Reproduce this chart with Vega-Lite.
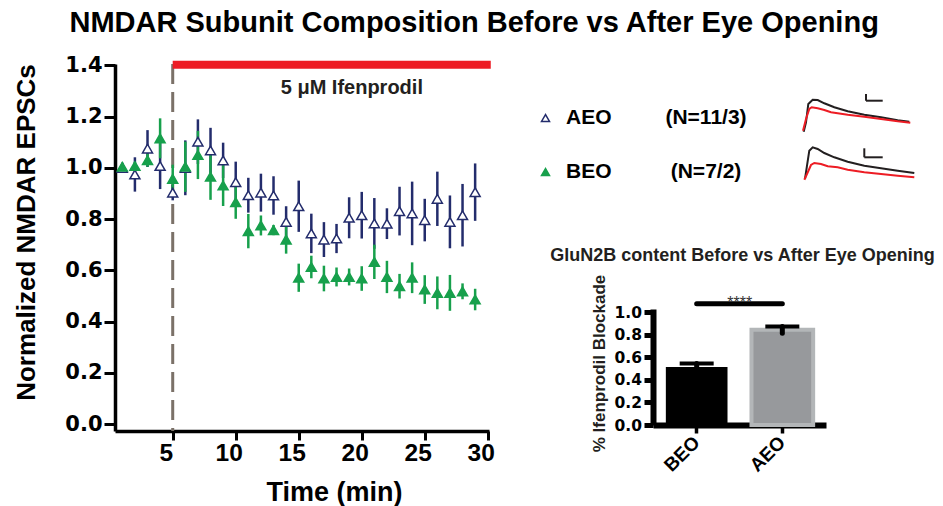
{
  "$schema": "https://vega.github.io/schema/vega-lite/v6.json",
  "background": "white",
  "padding": {"left": 13, "top": 9, "right": 0, "bottom": 0},
  "title": {"text": "NMDAR Subunit Composition Before vs After Eye Opening", "font": "Liberation Sans", "fontSize": 29, "fontWeight": "bold", "color": "#000000", "anchor": "middle", "offset": 16},
  "config": {"view": {"stroke": null}, "axis": {"grid": false, "labelOverlap": false}, "text": {"font": "Liberation Sans"}},
  "datasets": {
    "timecourse": [
      {"group": "AEO", "time": 1, "mean": 1.0, "sem": 0.02},
      {"group": "AEO", "time": 2, "mean": 0.974, "sem": 0.067},
      {"group": "AEO", "time": 3, "mean": 1.075, "sem": 0.072},
      {"group": "AEO", "time": 4, "mean": 1.007, "sem": 0.09},
      {"group": "AEO", "time": 5, "mean": 0.903, "sem": 0.03},
      {"group": "AEO", "time": 6, "mean": 1.0, "sem": 0.107},
      {"group": "AEO", "time": 7, "mean": 1.102, "sem": 0.087},
      {"group": "AEO", "time": 8, "mean": 1.068, "sem": 0.088},
      {"group": "AEO", "time": 9, "mean": 1.029, "sem": 0.069},
      {"group": "AEO", "time": 10, "mean": 0.944, "sem": 0.08},
      {"group": "AEO", "time": 11, "mean": 0.893, "sem": 0.068},
      {"group": "AEO", "time": 12, "mean": 0.903, "sem": 0.074},
      {"group": "AEO", "time": 13, "mean": 0.892, "sem": 0.075},
      {"group": "AEO", "time": 14, "mean": 0.789, "sem": 0.061},
      {"group": "AEO", "time": 15, "mean": 0.85, "sem": 0.1},
      {"group": "AEO", "time": 16, "mean": 0.744, "sem": 0.077},
      {"group": "AEO", "time": 17, "mean": 0.72, "sem": 0.068},
      {"group": "AEO", "time": 18, "mean": 0.724, "sem": 0.057},
      {"group": "AEO", "time": 19, "mean": 0.805, "sem": 0.08},
      {"group": "AEO", "time": 20, "mean": 0.815, "sem": 0.091},
      {"group": "AEO", "time": 21, "mean": 0.783, "sem": 0.099},
      {"group": "AEO", "time": 22, "mean": 0.782, "sem": 0.06},
      {"group": "AEO", "time": 23, "mean": 0.831, "sem": 0.095},
      {"group": "AEO", "time": 24, "mean": 0.822, "sem": 0.124},
      {"group": "AEO", "time": 25, "mean": 0.796, "sem": 0.083},
      {"group": "AEO", "time": 26, "mean": 0.879, "sem": 0.106},
      {"group": "AEO", "time": 27, "mean": 0.789, "sem": 0.103},
      {"group": "AEO", "time": 28, "mean": 0.815, "sem": 0.122},
      {"group": "AEO", "time": 29, "mean": 0.905, "sem": 0.112},
      {"group": "BEO", "time": 1, "mean": 1.004, "sem": 0.01},
      {"group": "BEO", "time": 2, "mean": 1.007, "sem": 0.015},
      {"group": "BEO", "time": 3, "mean": 1.03, "sem": 0.026},
      {"group": "BEO", "time": 4, "mean": 1.115, "sem": 0.078},
      {"group": "BEO", "time": 5, "mean": 0.957, "sem": 0.055},
      {"group": "BEO", "time": 6, "mean": 1.004, "sem": 0.098},
      {"group": "BEO", "time": 7, "mean": 1.05, "sem": 0.094},
      {"group": "BEO", "time": 8, "mean": 0.965, "sem": 0.09},
      {"group": "BEO", "time": 9, "mean": 0.931, "sem": 0.08},
      {"group": "BEO", "time": 10, "mean": 0.866, "sem": 0.065},
      {"group": "BEO", "time": 11, "mean": 0.753, "sem": 0.067},
      {"group": "BEO", "time": 12, "mean": 0.775, "sem": 0.039},
      {"group": "BEO", "time": 13, "mean": 0.757, "sem": 0.02},
      {"group": "BEO", "time": 14, "mean": 0.72, "sem": 0.055},
      {"group": "BEO", "time": 15, "mean": 0.571, "sem": 0.055},
      {"group": "BEO", "time": 16, "mean": 0.613, "sem": 0.044},
      {"group": "BEO", "time": 17, "mean": 0.568, "sem": 0.05},
      {"group": "BEO", "time": 18, "mean": 0.574, "sem": 0.037},
      {"group": "BEO", "time": 19, "mean": 0.574, "sem": 0.033},
      {"group": "BEO", "time": 20, "mean": 0.568, "sem": 0.048},
      {"group": "BEO", "time": 21, "mean": 0.633, "sem": 0.067},
      {"group": "BEO", "time": 22, "mean": 0.574, "sem": 0.063},
      {"group": "BEO", "time": 23, "mean": 0.538, "sem": 0.048},
      {"group": "BEO", "time": 24, "mean": 0.571, "sem": 0.06},
      {"group": "BEO", "time": 25, "mean": 0.525, "sem": 0.056},
      {"group": "BEO", "time": 26, "mean": 0.512, "sem": 0.064},
      {"group": "BEO", "time": 27, "mean": 0.512, "sem": 0.07},
      {"group": "BEO", "time": 28, "mean": 0.518, "sem": 0.031},
      {"group": "BEO", "time": 29, "mean": 0.486, "sem": 0.042}
    ],
    "annot": [{"label": "5 μM Ifenprodil", "start": 5.0, "end": 30.24, "level": 1.402}],
    "legendinfo": [{"group": "AEO", "n": "(N=11/3)"}, {"group": "BEO", "n": "(N=7/2)"}],
    "traces": [
      {"group": "AEO", "series": "control", "t": 2.7, "amp": 0.3},
      {"group": "AEO", "series": "control", "t": 5, "amp": 9.7},
      {"group": "AEO", "series": "control", "t": 7.3, "amp": 28},
      {"group": "AEO", "series": "control", "t": 11.7, "amp": 32.3},
      {"group": "AEO", "series": "control", "t": 16.7, "amp": 32},
      {"group": "AEO", "series": "control", "t": 23.3, "amp": 28.7},
      {"group": "AEO", "series": "control", "t": 33.3, "amp": 24.7},
      {"group": "AEO", "series": "control", "t": 46.7, "amp": 20.7},
      {"group": "AEO", "series": "control", "t": 63.3, "amp": 17.3},
      {"group": "AEO", "series": "control", "t": 80, "amp": 14.7},
      {"group": "AEO", "series": "control", "t": 96.7, "amp": 11.7},
      {"group": "AEO", "series": "control", "t": 108.3, "amp": 10.3},
      {"group": "BEO", "series": "control", "t": 4, "amp": 0.5},
      {"group": "BEO", "series": "control", "t": 6, "amp": 13.8},
      {"group": "BEO", "series": "control", "t": 8.3, "amp": 28.8},
      {"group": "BEO", "series": "control", "t": 11.7, "amp": 32.2},
      {"group": "BEO", "series": "control", "t": 16.7, "amp": 30.5},
      {"group": "BEO", "series": "control", "t": 23.3, "amp": 26.5},
      {"group": "BEO", "series": "control", "t": 33.3, "amp": 22.2},
      {"group": "BEO", "series": "control", "t": 46.7, "amp": 17.8},
      {"group": "BEO", "series": "control", "t": 63.3, "amp": 13.8},
      {"group": "BEO", "series": "control", "t": 80, "amp": 11.2},
      {"group": "BEO", "series": "control", "t": 96.7, "amp": 8.8},
      {"group": "BEO", "series": "control", "t": 113.3, "amp": 6.5},
      {"group": "AEO", "series": "ifenprodil", "t": 2, "amp": 1.3},
      {"group": "AEO", "series": "ifenprodil", "t": 5, "amp": 13},
      {"group": "AEO", "series": "ifenprodil", "t": 8.3, "amp": 23},
      {"group": "AEO", "series": "ifenprodil", "t": 10.7, "amp": 24.7},
      {"group": "AEO", "series": "ifenprodil", "t": 16.7, "amp": 23.7},
      {"group": "AEO", "series": "ifenprodil", "t": 23.3, "amp": 22},
      {"group": "AEO", "series": "ifenprodil", "t": 30, "amp": 19.7},
      {"group": "AEO", "series": "ifenprodil", "t": 46.7, "amp": 17.3},
      {"group": "AEO", "series": "ifenprodil", "t": 63.3, "amp": 15.3},
      {"group": "AEO", "series": "ifenprodil", "t": 80, "amp": 13},
      {"group": "AEO", "series": "ifenprodil", "t": 96.7, "amp": 10.7},
      {"group": "AEO", "series": "ifenprodil", "t": 109.3, "amp": 9.3},
      {"group": "BEO", "series": "ifenprodil", "t": 3.3, "amp": -0.2},
      {"group": "BEO", "series": "ifenprodil", "t": 6, "amp": 5.5},
      {"group": "BEO", "series": "ifenprodil", "t": 10, "amp": 14.5},
      {"group": "BEO", "series": "ifenprodil", "t": 13.3, "amp": 16.5},
      {"group": "BEO", "series": "ifenprodil", "t": 20, "amp": 15.5},
      {"group": "BEO", "series": "ifenprodil", "t": 26.7, "amp": 13.2},
      {"group": "BEO", "series": "ifenprodil", "t": 36.7, "amp": 12.2},
      {"group": "BEO", "series": "ifenprodil", "t": 46.7, "amp": 9.8},
      {"group": "BEO", "series": "ifenprodil", "t": 63.3, "amp": 7.2},
      {"group": "BEO", "series": "ifenprodil", "t": 80, "amp": 5.5},
      {"group": "BEO", "series": "ifenprodil", "t": 96.7, "amp": 3.8},
      {"group": "BEO", "series": "ifenprodil", "t": 113.3, "amp": 2.2}
    ],
    "scalebars": [
      {"group": "AEO", "t": 65, "t2": 81.7, "top": 38, "bottom": 31.3},
      {"group": "BEO", "t": 63.3, "t2": 81.7, "top": 31.2, "bottom": 22.2}
    ],
    "blockade": [
      {"group": "BEO", "mean": 0.515, "lower": 0.485, "upper": 0.545},
      {"group": "AEO", "mean": 0.845, "lower": 0.815, "upper": 0.875}
    ],
    "significance": [{"from": "BEO", "to": "AEO", "level": 1.077, "label": "****"}]
  },
  "bounds": "flush",
  "spacing": 42,
  "hconcat": [
    {
      "width": 374,
      "height": 367,
      "layer": [
        {
          "data": {"name": "annot"},
          "mark": {"type": "rule", "color": "#7b7168", "strokeWidth": 3, "strokeDash": [20, 8]},
          "encoding": {"x": {"field": "start", "type": "quantitative"}}
        },
        {
          "data": {"name": "annot"},
          "mark": {"type": "rule", "color": "#ed1c24", "strokeWidth": 8},
          "encoding": {
            "x": {"field": "start", "type": "quantitative"},
            "x2": {"field": "end"},
            "y": {"field": "level", "type": "quantitative"}
          }
        },
        {
          "data": {"name": "annot"},
          "mark": {"type": "text", "font": "Liberation Sans", "fontWeight": "bold", "fontSize": 20, "color": "#231f20", "align": "left", "baseline": "alphabetic", "dx": 108, "dy": 29.5},
          "encoding": {
            "x": {"field": "start", "type": "quantitative"},
            "y": {"field": "level", "type": "quantitative"},
            "text": {"field": "label"}
          }
        },
        {
          "data": {"name": "timecourse"},
          "mark": {"type": "errorbar", "rule": {"strokeWidth": 2.5}},
          "encoding": {
            "x": {"field": "time", "type": "quantitative", "title": "Time (min)"},
            "y": {"field": "mean", "type": "quantitative", "title": "Normalized NMDAR EPSCs"},
            "yError": {"field": "sem"},
            "color": {"field": "group", "type": "nominal", "scale": {"domain": ["AEO", "BEO"], "range": ["#232c6c", "#17a04c"]}, "legend": null}
          }
        },
        {
          "data": {"name": "timecourse"},
          "mark": {"type": "point", "shape": "triangle-up", "size": 100, "strokeWidth": 1.5, "opacity": 1},
          "encoding": {
            "x": {
              "field": "time", "type": "quantitative",
              "scale": {"domain": [0.42, 30.1], "nice": false, "zero": false},
              "axis": {
                "values": [5, 10, 15, 20, 25, 30], "tickCount": 6,
                "title": "Time (min)",
                "titleFont": "Liberation Sans", "titleFontSize": 27, "titleFontWeight": "bold", "titleColor": "#000000",
                "titleX": 219, "titleY": 69.7, "titleBaseline": "alphabetic", "titleAlign": "center",
                "labelFont": "Liberation Sans", "labelFontSize": 24.5, "labelFontWeight": "bold", "labelColor": "#000000",
                "labelPadding": 1, "labelOffset": -7, "labelBaseline": "top", "labelOverlap": false,
                "tickSize": 9, "tickWidth": 3, "tickColor": "#000000",
                "domainWidth": 3.5, "domainColor": "#000000"
              }
            },
            "y": {
              "field": "mean", "type": "quantitative",
              "scale": {"domain": [-0.027, 1.405], "nice": false, "zero": false},
              "axis": {
                "values": [0, 0.2, 0.4, 0.6, 0.8, 1.0, 1.2, 1.4], "tickCount": 8,
                "format": ".1f",
                "title": "Normalized NMDAR EPSCs",
                "titleFont": "Liberation Sans", "titleFontSize": 26, "titleFontWeight": "bold", "titleColor": "#000000",
                "titleX": -80.7, "titleY": 168, "titleBaseline": "alphabetic", "titleAlign": "center", "titleAngle": -90,
                "labelFont": "DejaVu Sans", "labelFontSize": 21, "labelFontWeight": "bold", "labelColor": "#000000",
                "labelPadding": 2, "labelOverlap": false,
                "tickSize": 11, "tickWidth": 3, "tickColor": "#000000",
                "domainWidth": 3.5, "domainColor": "#000000"
              }
            },
            "stroke": {
              "field": "group", "type": "nominal",
              "scale": {"domain": ["AEO", "BEO"], "range": ["#232c6c", "#17a04c"]},
              "legend": null
            },
            "fill": {
              "field": "group", "type": "nominal",
              "scale": {"domain": ["AEO", "BEO"], "range": ["#ffffff", "#17a04c"]},
              "legend": null
            }
          }
        }
      ]
    },
    {
      "width": 80,
      "height": 162,
      "data": {"name": "legendinfo"},
      "layer": [
        {
          "mark": {"type": "point", "shape": "triangle-up", "size": 64, "strokeWidth": 1.5, "opacity": 1, "xOffset": -25.5},
          "encoding": {
            "y": {"field": "group", "type": "nominal", "scale": {"type": "point", "domain": ["AEO", "BEO"], "padding": 1.22}, "axis": null},
            "stroke": {"field": "group", "type": "nominal", "scale": {"domain": ["AEO", "BEO"], "range": ["#232c6c", "#17a04c"]}, "legend": null},
            "fill": {"field": "group", "type": "nominal", "scale": {"domain": ["AEO", "BEO"], "range": ["#ffffff", "#17a04c"]}, "legend": null}
          }
        },
        {
          "mark": {"type": "text", "font": "Liberation Sans", "fontWeight": "bold", "fontSize": 21, "color": "#000000", "align": "left", "baseline": "middle", "dx": -5},
          "encoding": {
            "y": {"field": "group", "type": "nominal"},
            "text": {"field": "group"}
          }
        }
      ]
    },
    {
      "bounds": "flush",
      "spacing": 245,
      "vconcat": [
        {
          "bounds": "flush",
          "spacing": 42,
          "hconcat": [
            {
              "width": 106,
              "height": 162,
              "data": {"name": "legendinfo"},
              "mark": {"type": "text", "font": "Liberation Sans", "fontWeight": "bold", "fontSize": 21, "color": "#000000", "baseline": "middle", "align": "center"},
              "encoding": {
                "y": {"field": "group", "type": "nominal", "scale": {"type": "point", "domain": ["AEO", "BEO"], "padding": 1.22}, "axis": null},
                "text": {"field": "n"}
              }
            },
            {
              "bounds": "flush",
              "spacing": 5,
              "vconcat": [
                {
                  "width": 115,
                  "height": 72,
                  "layer": [
                    {
                      "data": {"name": "traces"},
                      "transform": [{"filter": "datum.group === 'AEO' && datum.series === 'control'"}],
                      "mark": {"type": "line", "strokeWidth": 2, "color": "#231f20"},
                      "encoding": {
                        "x": {"field": "t", "type": "quantitative", "scale": {"domain": [0, 115], "nice": false}, "axis": null},
                        "y": {"field": "amp", "type": "quantitative", "scale": {"domain": [-4, 68], "nice": false, "zero": false}, "axis": null}
                      }
                    },
                    {
                      "data": {"name": "traces"},
                      "transform": [{"filter": "datum.group === 'AEO' && datum.series === 'ifenprodil'"}],
                      "mark": {"type": "line", "strokeWidth": 2, "color": "#ed1c24"},
                      "encoding": {
                        "x": {"field": "t", "type": "quantitative"},
                        "y": {"field": "amp", "type": "quantitative"}
                      }
                    },
                    {
                      "data": {"name": "scalebars"},
                      "transform": [{"filter": "datum.group === 'AEO'"}],
                      "mark": {"type": "rule", "strokeWidth": 2, "color": "#231f20"},
                      "encoding": {
                        "x": {"field": "t", "type": "quantitative"},
                        "y": {"field": "top", "type": "quantitative"},
                        "y2": {"field": "bottom"}
                      }
                    },
                    {
                      "data": {"name": "scalebars"},
                      "transform": [{"filter": "datum.group === 'AEO'"}],
                      "mark": {"type": "rule", "strokeWidth": 2, "color": "#231f20"},
                      "encoding": {
                        "x": {"field": "t", "type": "quantitative"},
                        "x2": {"field": "t2"},
                        "y": {"field": "bottom", "type": "quantitative"}
                      }
                    }
                  ]
                },
                {
                  "width": 115,
                  "height": 45,
                  "layer": [
                    {
                      "data": {"name": "traces"},
                      "transform": [{"filter": "datum.group === 'BEO' && datum.series === 'control'"}],
                      "mark": {"type": "line", "strokeWidth": 2, "color": "#231f20"},
                      "encoding": {
                        "x": {"field": "t", "type": "quantitative", "scale": {"domain": [0, 115], "nice": false}, "axis": null},
                        "y": {"field": "amp", "type": "quantitative", "scale": {"domain": [-6.5, 38.5], "nice": false, "zero": false}, "axis": null}
                      }
                    },
                    {
                      "data": {"name": "traces"},
                      "transform": [{"filter": "datum.group === 'BEO' && datum.series === 'ifenprodil'"}],
                      "mark": {"type": "line", "strokeWidth": 2, "color": "#ed1c24"},
                      "encoding": {
                        "x": {"field": "t", "type": "quantitative"},
                        "y": {"field": "amp", "type": "quantitative"}
                      }
                    },
                    {
                      "data": {"name": "scalebars"},
                      "transform": [{"filter": "datum.group === 'BEO'"}],
                      "mark": {"type": "rule", "strokeWidth": 2, "color": "#231f20"},
                      "encoding": {
                        "x": {"field": "t", "type": "quantitative"},
                        "y": {"field": "top", "type": "quantitative"},
                        "y2": {"field": "bottom"}
                      }
                    },
                    {
                      "data": {"name": "scalebars"},
                      "transform": [{"filter": "datum.group === 'BEO'"}],
                      "mark": {"type": "rule", "strokeWidth": 2, "color": "#231f20"},
                      "encoding": {
                        "x": {"field": "t", "type": "quantitative"},
                        "x2": {"field": "t2"},
                        "y": {"field": "bottom", "type": "quantitative"}
                      }
                    }
                  ]
                }
              ]
            }
          ]
        },
        {
          "width": 173,
          "height": 116,
          "title": {"text": "GluN2B content Before vs After Eye Opening", "font": "Liberation Sans", "fontSize": 18, "fontWeight": "bold", "color": "#231f20", "anchor": "middle", "dx": 3, "offset": -5, "baseline": "alphabetic"},
          "layer": [
            {
              "data": {"name": "blockade"},
              "transform": [{"filter": "datum.group === 'BEO'"}],
              "mark": {"type": "bar", "color": "#000000"},
              "encoding": {
                "x": {
                  "field": "group", "type": "nominal",
                  "scale": {"domain": ["BEO", "AEO"], "paddingInner": 0.28, "paddingOuter": 0.15},
                  "axis": {
                    "title": null, "labelAngle": -45, "labelAlign": "right", "labelBaseline": "middle",
                    "labelFont": "Liberation Sans", "labelFontSize": 19, "labelFontWeight": "bold", "labelColor": "#000000",
                    "labelPadding": 6, "tickSize": 8, "tickWidth": 3.5, "tickColor": "#000000",
                    "domainWidth": 6, "domainColor": "#000000"
                  }
                },
                "y": {
                  "field": "mean", "type": "quantitative",
                  "scale": {"domain": [0, 1.03], "nice": false},
                  "axis": {
                    "values": [0, 0.2, 0.4, 0.6, 0.8, 1.0], "tickCount": 6, "format": ".1f",
                    "title": "% Ifenprodil Blockade",
                    "titleFont": "Liberation Sans", "titleFontSize": 17, "titleFontWeight": "bold", "titleColor": "#231f20",
                    "titleX": -48.7, "titleY": 54, "titleBaseline": "alphabetic", "titleAlign": "center", "titleAngle": -90,
                    "labelFont": "DejaVu Sans", "labelFontSize": 15.5, "labelFontWeight": "bold", "labelColor": "#000000",
                    "labelPadding": 2.5, "labelOverlap": false, "tickSize": 9, "tickWidth": 5, "tickColor": "#000000",
                    "domainWidth": 6, "domainColor": "#000000"
                  }
                }
              }
            },
            {
              "data": {"name": "blockade"},
              "transform": [{"filter": "datum.group === 'AEO'"}],
              "mark": {"type": "bar", "fill": "#97999c", "stroke": "#b3b6b8", "strokeWidth": 4},
              "encoding": {
                "x": {"field": "group", "type": "nominal"},
                "y": {"field": "mean", "type": "quantitative"}
              }
            },
            {
              "data": {"name": "blockade"},
              "mark": {"type": "rule", "strokeWidth": 5, "strokeCap": "round", "color": "#000000"},
              "encoding": {
                "x": {"field": "group", "type": "nominal", "bandPosition": 0.5},
                "y": {"field": "lower", "type": "quantitative"},
                "y2": {"field": "upper"}
              }
            },
            {
              "data": {"name": "blockade"},
              "mark": {"type": "tick", "thickness": 4, "size": 34, "color": "#000000", "opacity": 1},
              "encoding": {
                "x": {"field": "group", "type": "nominal"},
                "y": {"field": "upper", "type": "quantitative"}
              }
            },
            {
              "data": {"name": "significance"},
              "mark": {"type": "rule", "strokeWidth": 5, "strokeCap": "round", "color": "#000000"},
              "encoding": {
                "x": {"field": "from", "type": "nominal", "bandPosition": 0.5},
                "x2": {"field": "to", "bandPosition": 0.5},
                "y": {"field": "level", "type": "quantitative"}
              }
            },
            {
              "data": {"name": "significance"},
              "mark": {"type": "text", "font": "Liberation Sans", "fontSize": 16, "color": "#333333", "dx": 43, "dy": 4, "baseline": "alphabetic"},
              "encoding": {
                "x": {"field": "from", "type": "nominal", "bandPosition": 0.5},
                "y": {"field": "level", "type": "quantitative"},
                "text": {"field": "label"}
              }
            }
          ]
        }
      ]
    }
  ]
}
